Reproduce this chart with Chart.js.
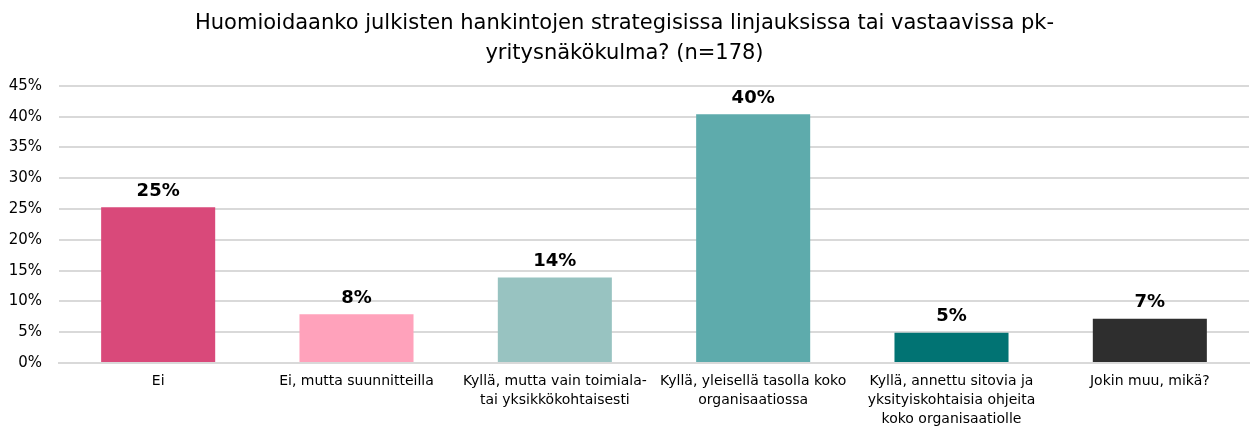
<!DOCTYPE html>
<html>
<head>
<meta charset="utf-8">
<script src="https://cdn.jsdelivr.net/npm/chart.js@4"></script>
<style>
  html, body { margin: 0; padding: 0; background: #fff; }
  #wrap { width: 1250px; height: 432px; }
</style>
</head>
<body>
<div id="wrap"><canvas id="my-chart"></canvas></div>
<script>
'use strict';

// chart data
let titleLines = ['Huomioidaanko julkisten hankintojen strategisissa linjauksissa tai vastaavissa pk-', 'yritysnäkökulma? (n=178)'];
let categories = [
  'Ei',
  'Ei, mutta suunnitteilla',
  ['Kyllä, mutta vain toimiala-', 'tai yksikkökohtaisesti'],
  ['Kyllä, yleisellä tasolla koko', 'organisaatiossa'],
  ['Kyllä, annettu sitovia ja', 'yksityiskohtaisia ohjeita', 'koko organisaatiolle'],
  'Jokin muu, mikä?'
];
let shares = [25.3, 7.9, 13.9, 40.4, 4.9, 7.2];
let barColors = ['#d9497a', '#ffa2bb', '#98c3c1', '#5eabac', '#017373', '#2e2e2e'];
let yTicks = [0, 5, 10, 15, 20, 25, 30, 35, 40, 45];

let fontName = '"DejaVu Sans", Verdana, sans-serif';

// value labels above the bars
let barLabels = {
  id: 'barLabels',
  afterDatasetsDraw(chart) {
    let c = chart.ctx;
    let meta = chart.getDatasetMeta(0);
    c.save();
    c.font = 'bold 18px ' + fontName;
    c.fillStyle = '#000';
    c.textAlign = 'center';
    c.textBaseline = 'middle';
    meta.data.forEach(function(bar, i) {
      c.fillText(Math.round(shares[i]) + '%', bar.x, bar.y - 16);
    });
    c.restore();
  }
};

let ctx = document.getElementById('my-chart');

new Chart(ctx, {
  type: 'bar',
  data: {
    labels: categories,
    datasets: [{
      data: shares,
      backgroundColor: barColors,
      borderWidth: 0,
      categoryPercentage: 1,
      barPercentage: 0.575
    }]
  },
  options: {
    responsive: true,
    maintainAspectRatio: false,
    animation: false,
    layout: { padding: { left: 0, right: 1, top: 0, bottom: 0 } },
    plugins: {
      legend: { display: false },
      tooltip: { enabled: false },
      title: {
        display: true,
        text: titleLines,
        color: '#000',
        font: { family: fontName, size: 21, weight: 'normal', lineHeight: 1.45 },
        padding: { top: 8, bottom: 17 }
      }
    },
    scales: {
      x: {
        grid: { display: false, drawTicks: false },
        border: { display: true, color: '#d9d9d9', width: 2 },
        ticks: {
          color: '#000',
          font: { family: fontName, size: 14, lineHeight: 1.35 },
          maxRotation: 0,
          autoSkip: false,
          padding: 9
        },
        afterFit(scale) { scale.height = 69; }
      },
      y: {
        min: 0,
        max: 45,
        afterBuildTicks(scale) { scale.ticks = yTicks.map(v => ({ value: v })); },
        grid: { color: '#d9d9d9', lineWidth: 2, drawTicks: false },
        border: { display: false },
        ticks: {
          color: '#000',
          font: { family: fontName, size: 15 },
          padding: 17,
          callback: v => v + '%'
        },
        afterFit(scale) { scale.width = 59; }
      }
    }
  },
  plugins: [barLabels]
});
</script>
</body>
</html>
